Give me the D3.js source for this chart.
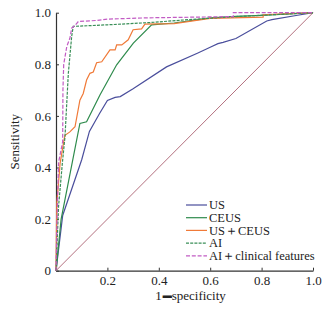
<!DOCTYPE html>
<html>
<head>
<meta charset="utf-8">
<script src="https://cdn.jsdelivr.net/npm/d3@7"></script>
<style>
  body { margin: 0; background: #fff; }
</style>
</head>
<body>
<div id="roc"></div>
<script>
// ROC points [1-specificity, sensitivity]
let series_names = ["US", "CEUS", "US\uFF0BCEUS", "AI", "AI\uFF0Bclinical features"];

let us_pts = [[0,0],[0.026,0.214],[0.1,0.43],[0.13,0.54],[0.17,0.61],[0.2,0.66],[0.23,0.672],[0.25,0.675],[0.3,0.705],[0.43,0.79],[0.55,0.843],[0.6,0.866],[0.63,0.88],[0.65,0.885],[0.7,0.9],[0.82,0.968],[0.84,0.973],[0.94,0.99],[1,1]];
let ceus_pts = [[0,0],[0.02,0.2],[0.093,0.571],[0.119,0.577],[0.171,0.681],[0.236,0.798],[0.301,0.882],[0.372,0.953],[0.46,0.96],[0.6,0.98],[0.7,0.986],[0.8,0.99],[1,1]];
let usceus_pts = [[0,0],[0.003,0.26],[0.016,0.416],[0.031,0.506],[0.035,0.525],[0.054,0.538],[0.074,0.558],[0.093,0.661],[0.106,0.687],[0.119,0.739],[0.132,0.765],[0.145,0.77],[0.158,0.806],[0.178,0.81],[0.21,0.856],[0.23,0.856],[0.236,0.875],[0.256,0.875],[0.281,0.895],[0.3,0.934],[0.333,0.937],[0.346,0.956],[0.46,0.958],[0.6,0.978],[0.806,0.983],[0.806,0.992],[1,1]];
let ai_pts = [[0,0],[0.01,0.25],[0.025,0.42],[0.035,0.52],[0.048,0.765],[0.061,0.908],[0.067,0.947],[0.2,0.953],[0.37,0.962],[0.5,0.972],[0.7,0.985],[0.9,0.995],[1,1]];
let aiclin_pts = [[0,0],[0.004,0.2],[0.01,0.42],[0.02,0.47],[0.026,0.5],[0.027,0.7],[0.03,0.8],[0.042,0.869],[0.054,0.901],[0.061,0.94],[0.074,0.951],[0.087,0.966],[0.16,0.97],[0.2,0.975],[0.35,0.98],[0.69,0.985],[0.69,1],[1,1]];
let ref_pts = [[0,0],[1,1]];

let x_ticks = [0.2, 0.4, 0.6, 0.8, 1.0];
let y_ticks = [0, 0.2, 0.4, 0.6, 0.8, 1.0];

let serif = "'Liberation Serif', 'DejaVu Serif', serif";

function drawRoc() {
    let div_id = "#roc";
    let win_width = 334, win_height = 311;
    let margin = {top: 12.7, right: 21, bottom: 40.3, left: 56};
    let width = win_width - margin.left - margin.right;
    let height = win_height - margin.top - margin.bottom;

    let svg = d3.select(div_id)
        .append("svg")
        .attr("width", win_width)
        .attr("height", win_height)
        .attr("font-family", serif);

    let g = svg.append("g")
        .attr("transform", "translate(" + margin.left + "," + margin.top + ")");

    let x = d3.scaleLinear().domain([0, 1]).range([0, width]);
    let y = d3.scaleLinear().domain([0, 1]).range([height, 0]);

    let fmt = function(d) { return d === 0 ? "0" : d3.format(".1f")(d); };

    // axes, ticks pointing inward
    let xAxis = g.append("g")
        .attr("transform", "translate(0," + height + ")")
        .call(d3.axisBottom(x).tickValues(x_ticks).tickFormat(fmt).tickSizeInner(-3).tickSizeOuter(0).tickPadding(5));
    let yAxis = g.append("g")
        .call(d3.axisLeft(y).tickValues(y_ticks).tickFormat(fmt).tickSizeInner(-3).tickSizeOuter(0).tickPadding(5));

    [xAxis, yAxis].forEach(function(a) {
        a.attr("font-family", serif).attr("font-size", 13);
        a.select(".domain").attr("stroke", "#333").attr("stroke-width", 1.2);
        a.selectAll(".tick line").attr("stroke", "#333");
        a.selectAll("text").attr("fill", "#222");
    });

    // axis titles
    let xt = svg.append("text")
        .attr("x", margin.left + width / 2 + 6)
        .attr("y", 300)
        .attr("text-anchor", "middle")
        .attr("fill", "#222")
        .attr("font-size", 13);
    xt.append("tspan").text("1");
    xt.append("tspan").text("\u2501").attr("font-family", "'DejaVu Sans'").attr("font-size", 15).attr("dy", 1.5).attr("dx", 1);
    xt.append("tspan").text("specificity").attr("dy", -1.5);

    svg.append("text")
        .attr("transform", "translate(19," + (margin.top + height / 2) + ") rotate(-90)")
        .attr("text-anchor", "middle")
        .attr("fill", "#222")
        .attr("font-size", 13)
        .text("Sensitivity");

    let line = d3.line()
        .x(function(d) { return x(d[0]); })
        .y(function(d) { return y(d[1]); });

    let curves = [
        {name: series_names[0], pts: us_pts, color: "#4a4e9c", dash: null},
        {name: series_names[1], pts: ceus_pts, color: "#2e8b4c", dash: null},
        {name: series_names[2], pts: usceus_pts, color: "#f07a38", dash: null},
        {name: series_names[3], pts: ai_pts, color: "#3a8f58", dash: "3,1.2"},
        {name: series_names[4], pts: aiclin_pts, color: "#c25cc4", dash: "4,1.8"}
    ];

    // reference diagonal
    g.append("path")
        .attr("d", line(ref_pts))
        .attr("fill", "none")
        .attr("stroke", "#b4717f")
        .attr("stroke-width", 1);

    g.selectAll(".roc")
        .data(curves)
        .join("path")
        .attr("class", "roc")
        .attr("fill", "none")
        .attr("stroke", function(d) { return d.color; })
        .attr("stroke-width", 1.2)
        .attr("stroke-dasharray", function(d) { return d.dash; })
        .attr("d", function(d) { return line(d.pts); });

    // legend
    let leg = svg.append("g");
    leg.selectAll("line")
        .data(curves)
        .join("line")
        .attr("x1", 186)
        .attr("x2", 207)
        .attr("y1", function(d, i) { return 205 + i * 12.7; })
        .attr("y2", function(d, i) { return 205 + i * 12.7; })
        .attr("stroke", function(d) { return d.color; })
        .attr("stroke-width", 1.2)
        .attr("stroke-dasharray", function(d) { return d.dash; });

    leg.selectAll("text")
        .data(curves)
        .join("text")
        .attr("x", 209)
        .attr("y", function(d, i) { return 205 + i * 12.7 + 4.2; })
        .attr("fill", "#222")
        .attr("font-size", 12.5)
        .text(function(d) { return d.name; });
}

drawRoc();
</script>
</body>
</html>
